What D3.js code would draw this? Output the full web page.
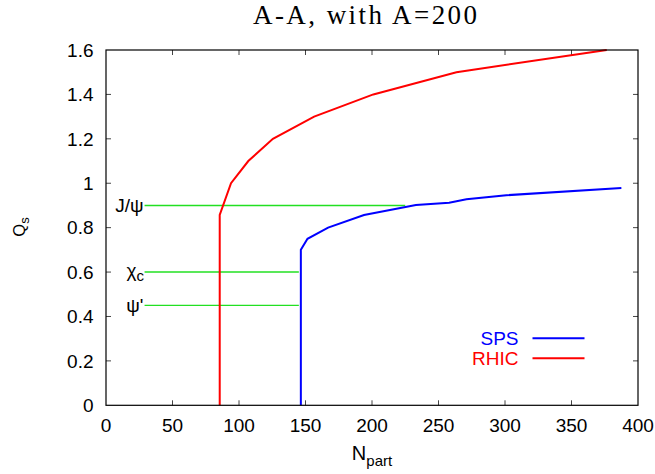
<!DOCTYPE html>
<html><head><meta charset="utf-8">
<script src="https://cdn.jsdelivr.net/npm/d3@7"></script>
<style>body{margin:0;background:#fff}</style>
</head><body><div id="chart"></div>
<script>
// Data
const xTicks = [0,50,100,150,200,250,300,350,400];
const yTicks = [0,0.2,0.4,0.6,0.8,1,1.2,1.4,1.6];
const spsN = [146.5,146.5,151.5,167,194,233,258,271,301,387.5];
const spsQ = [0,0.70,0.75,0.80,0.857,0.902,0.912,0.928,0.946,0.978];
const rhicN = [85.5,85.5,94,107,125.5,156.5,201,263.5,376.5];
const rhicQ = [0,0.857,1.0,1.10,1.20,1.30,1.40,1.50,1.60];
const stateNames = ["J/ψ","χc","ψ'"];
const stateQ = [0.9,0.6,0.45];
const stateNstart = [29,29,29];
const stateNend = [225,145,145];
const seriesNames = ["SPS","RHIC"];
const seriesColors = ["#0000ff","#ff0000"];

const W=655,H=474;
const svg=d3.select("#chart").append("svg").attr("width",W).attr("height",H)
  .style("font-family","'Liberation Sans',Arial,sans-serif");
svg.append("rect").attr("width",W).attr("height",H).attr("fill","#fff");
const x=d3.scaleLinear().domain([0,400]).range([106,638]);
const y=d3.scaleLinear().domain([0,1.6]).range([405.3,50]);

// ticks (inward, mirrored)
const tk=svg.append("g").attr("stroke","#444").attr("stroke-width",1);
xTicks.slice(1,-1).forEach(v=>{
  tk.append("line").attr("x1",x(v)).attr("x2",x(v)).attr("y1",y(0)).attr("y2",y(0)-5);
  tk.append("line").attr("x1",x(v)).attr("x2",x(v)).attr("y1",y(1.6)).attr("y2",y(1.6)+5);
});
yTicks.slice(1,-1).forEach(v=>{
  tk.append("line").attr("x1",x(0)).attr("x2",x(0)+5).attr("y1",y(v)).attr("y2",y(v));
  tk.append("line").attr("x1",x(400)).attr("x2",x(400)-5).attr("y1",y(v)).attr("y2",y(v));
});
// tick labels
svg.append("g").selectAll("text").data(xTicks).join("text")
  .attr("x",d=>x(d)).attr("y",431.5).attr("text-anchor","middle")
  .attr("font-size",19).attr("fill","#000").text(d=>d);
svg.append("g").selectAll("text").data(yTicks).join("text")
  .attr("x",93.5).attr("y",d=>y(d)+6.8).attr("text-anchor","end")
  .attr("font-size",19).attr("fill","#000").text(d=>d);

// green state lines
const g=svg.append("g");
stateQ.forEach((q,i)=>{
  g.append("line").attr("x1",x(stateNstart[i])).attr("x2",x(stateNend[i]))
    .attr("y1",y(q)).attr("y2",y(q)).attr("stroke","#22e022").attr("stroke-width",1.4);
});
// state labels
const lbl=svg.append("g").attr("font-size",19).attr("fill","#000");
lbl.append("text").attr("x",143.5).attr("y",y(stateQ[0])+7).attr("text-anchor","end").text(stateNames[0]);
const chi=lbl.append("text").attr("x",144).attr("y",y(stateQ[1])+5).attr("text-anchor","end");
chi.append("tspan").text("χ");
chi.append("tspan").attr("font-size",15).attr("dy",4).text("c");
lbl.append("text").attr("x",143.5).attr("y",y(stateQ[2])+7).attr("text-anchor","end").text(stateNames[2]);

// data lines
const line=d3.line().x(d=>x(d[0])).y(d=>y(d[1]));
const spsData=spsN.map((n,i)=>[n,spsQ[i]]);
const rhicData=rhicN.map((n,i)=>[n,rhicQ[i]]);
svg.append("path").attr("d",line(spsData)).attr("fill","none").attr("stroke",seriesColors[0]).attr("stroke-width",2);
svg.append("path").attr("d",line(rhicData)).attr("fill","none").attr("stroke",seriesColors[1]).attr("stroke-width",2);

// border
svg.append("rect").attr("x",x(0)).attr("y",y(1.6)).attr("width",x(400)-x(0)).attr("height",y(0)-y(1.6))
  .attr("fill","none").attr("stroke","#000").attr("stroke-width",1.2);

// legend
const legY=[338.3,358.3];
seriesNames.forEach((s,i)=>{
  svg.append("text").attr("x",518.5).attr("y",legY[i]+7).attr("text-anchor","end")
    .attr("font-size",19).attr("fill",seriesColors[i]).text(s);
  svg.append("line").attr("x1",532.5).attr("x2",584.5).attr("y1",legY[i]).attr("y2",legY[i])
    .attr("stroke",seriesColors[i]).attr("stroke-width",2);
});

// axis titles
const xt=svg.append("text").attr("x",372).attr("y",460).attr("text-anchor","middle").attr("font-size",20).attr("fill","#000");
xt.append("tspan").text("N");
xt.append("tspan").attr("font-size",15).attr("dy",6).text("part");
const yt=svg.append("text").attr("transform","translate(25,227) rotate(-90)").attr("text-anchor","middle").attr("font-size",16.5).attr("fill","#000");
yt.append("tspan").text("Q");
yt.append("tspan").attr("font-size",13).attr("dy",4).text("s");

// title
svg.append("text").attr("x",253).attr("y",24).attr("text-anchor","start")
  .attr("font-family","'Liberation Serif','Times New Roman',serif").attr("font-size",27).attr("fill","#000")
  .attr("textLength",224).attr("lengthAdjust","spacing")
  .text("A-A, with A=200");
</script></body></html>
